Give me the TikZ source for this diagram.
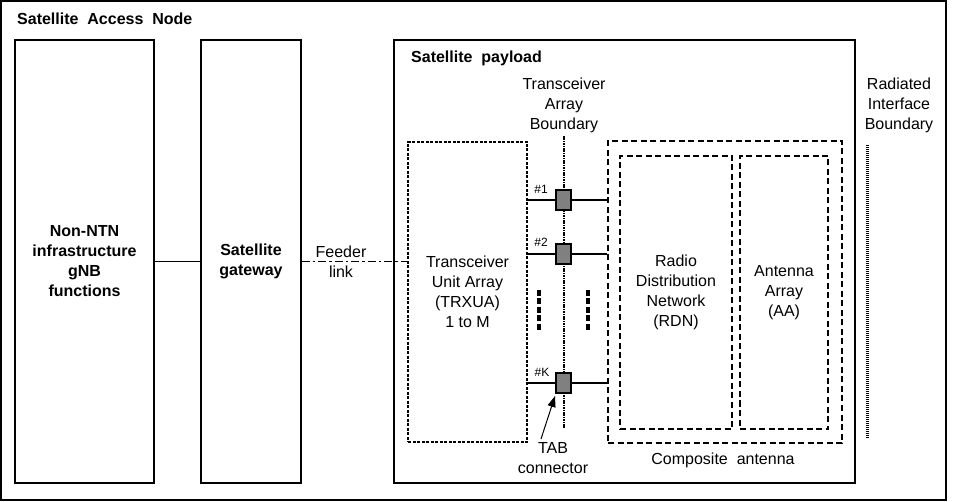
\documentclass[tikz,border=0pt]{standalone}
\usepackage{fontspec}
\setmainfont{Liberation Sans}
\usetikzlibrary{arrows.meta}
\begin{document}
\begin{tikzpicture}[x=1pt,y=-1pt,
  txt/.style={font=\fontsize{16}{20}\selectfont, align=center, inner sep=0pt},
  smalltxt/.style={font=\fontsize{12}{14}\selectfont, inner sep=0pt},
  solidbox/.style={draw, line width=1.8pt, inner sep=0pt, txt},
  dashbox/.style={draw, line width=1.6pt, dash pattern=on 6pt off 3.5pt, inner sep=0pt, txt},
  dotbox/.style={draw, line width=1.2pt, dash pattern=on 3pt off 1.5pt, inner sep=0pt, txt},
  tabsq/.style={draw, line width=1.5pt, fill=gray, minimum width=15pt, minimum height=20pt, inner sep=0pt},
  link/.style={line width=1.8pt},
  feeder/.style={line width=1.6pt, dash pattern=on 8pt off 3pt on 2.5pt off 3pt},
  trxbound/.style={line width=2.2pt, dash pattern=on 1.6pt off 0.8pt},
  radbound/.style={line width=3pt, dash pattern=on 1.3pt off 0.7pt},
  dotsmark/.style={line width=3.5pt, dash pattern=on 6pt off 2.5pt},
  pointer/.style={line width=1pt, -{Triangle[length=11pt,width=8pt]}}
]
\useasboundingbox (0,0) rectangle (953,502);

% outer frame
\node[solidbox, minimum width=945pt, minimum height=499pt] (san) at (473.5,250.5) {};
\node[txt, font=\fontsize{16}{20}\selectfont\bfseries, anchor=base west] (sanl) at (17,25) {Satellite\ \ Access\ \ Node};

% left boxes
\node[solidbox, minimum width=139pt, minimum height=443pt, font=\fontsize{16}{20}\selectfont\bfseries] (nonntn) at (84.5,261.5) {Non-NTN\\infrastructure\\gNB\\functions};
\node[solidbox, minimum width=100pt, minimum height=443pt, font=\fontsize{16}{20}\selectfont\bfseries] (gw) at (251,261.5) {Satellite\\gateway};

% payload
\node[solidbox, minimum width=461pt, minimum height=443pt] (payload) at (624.5,261.5) {};
\node[txt, font=\fontsize{16}{20}\selectfont\bfseries, anchor=base west] (payloadl) at (411,63) {Satellite\ \ payload};

% TRXUA
\node[dotbox, minimum width=119pt, minimum height=300pt] (trx) at (467.5,292) {Transceiver\\Unit Array\\(TRXUA)\\1 to M};

% composite antenna
\node[dashbox, minimum width=234pt, minimum height=302pt] (comp) at (725,292) {};
\node[dashbox, minimum width=112pt, minimum height=273pt] (rdn) at (676,292.5) {Radio\\Distribution\\Network\\(RDN)};
\node[dashbox, minimum width=88pt, minimum height=273pt] (aa) at (784,292.5) {Antenna\\Array\\(AA)};
\node[txt] (compl) at (723,460) {Composite\ \ antenna};

% transceiver array boundary
\node[txt] (tbl) at (564,105) {Transceiver\\Array\\Boundary};
\coordinate (tbtop) at (564,136);
\coordinate (tbbot) at (564,428);
\draw[trxbound] (tbtop) -- (tbbot);

% radiated interface boundary
\node[txt] (rbl) at (899,105) {Radiated\\Interface\\Boundary};
\coordinate (rbtop) at (867,145);
\coordinate (rbbot) at (867,438);
\draw[radbound] (rbtop) -- (rbbot);

% TAB connectors
\node[tabsq] (tab1) at (563.5,200) {};
\node[tabsq] (tab2) at (563.5,254) {};
\node[tabsq] (tabK) at (563.5,383) {};
\foreach \t in {tab1,tab2,tabK}{
  \draw[link] (\t.west) -- (\t.west -| trx.east);
  \draw[link] (\t.east) -- (\t.east -| comp.west);
}
\node[smalltxt] (l1) at (541,189) {\#1};
\node[smalltxt] (l2) at (541,242) {\#2};
\node[smalltxt] (lK) at (542,372) {\#K};

% ellipsis marks
\coordinate (e1a) at (539,290);
\coordinate (e1b) at (539,332);
\coordinate (e2a) at (588,290);
\coordinate (e2b) at (588,332);
\draw[dotsmark] (e1a) -- (e1b);
\draw[dotsmark] (e2a) -- (e2b);

% TAB connector label
\node[txt] (tabl) at (553,458) {TAB\\connector};
\coordinate (tabtail) at (541,439);
\coordinate (tabtip) at (555,396);
\draw[pointer] (tabtail) -- (tabtip);

% links
\draw[link, line width=1.5pt] (nonntn.east) -- (gw.west);
\draw[feeder] (gw.east) -- (gw.east -| trx.west);
\node[txt] (feedl) at (341,262) {Feeder\\link};
\end{tikzpicture}
\end{document}
